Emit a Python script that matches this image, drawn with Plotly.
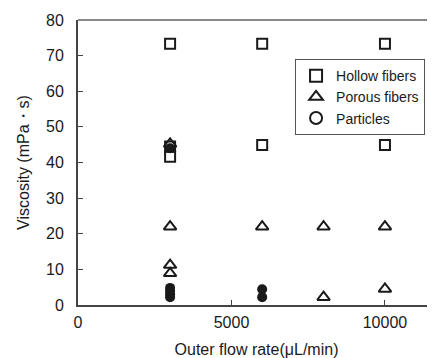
import plotly.graph_objects as go

hollow_x = [3000, 3000, 3000, 6000, 6000, 10000, 10000]
hollow_y = [73.3, 44.5, 41.6, 73.3, 44.9, 73.3, 44.9]

porous_x = [3000, 3000, 3000, 3000, 6000, 8000, 8000, 10000, 10000]
porous_y = [45.2, 22.0, 11.2, 8.9, 22.0, 22.0, 2.2, 22.0, 4.5]

particle_x = [3000, 3000, 3000, 3000, 3000, 6000, 6000]
particle_y = [44.0, 4.8, 3.9, 3.0, 2.2, 4.4, 2.2]

x_ticks = [0, 5000, 10000]
y_ticks = [0, 10, 20, 30, 40, 50, 60, 70, 80]

FONT = "Liberation Sans, Arial, sans-serif"
BLACK = "#1a1a1a"

fig = go.Figure()
fig.add_trace(go.Scatter(
    x=hollow_x, y=hollow_y, mode="markers", name="Hollow fibers",
    marker=dict(symbol="square-open", size=10, color=BLACK, line=dict(width=2, color=BLACK)),
))
fig.add_trace(go.Scatter(
    x=porous_x, y=porous_y, mode="markers", name="Porous fibers",
    marker=dict(symbol="triangle-up-open", size=11, color=BLACK, line=dict(width=2, color=BLACK)),
))
fig.add_trace(go.Scatter(
    x=particle_x, y=particle_y, mode="markers", name="Particles", showlegend=False,
    marker=dict(symbol="circle", size=10, color=BLACK, line=dict(width=0)),
))
fig.add_trace(go.Scatter(
    x=[None], y=[None], mode="markers", name="Particles",
    marker=dict(symbol="circle-open", size=10, color=BLACK, line=dict(width=2, color=BLACK)),
))

fig.update_layout(
    width=427, height=350,
    margin=dict(l=70, r=0, t=12, b=53),
    paper_bgcolor="white", plot_bgcolor="white",
    font=dict(family=FONT, size=16, color=BLACK),
    showlegend=True,
    legend=dict(
        x=0.608, y=0.863, xanchor="left", yanchor="top",
        bgcolor="white", bordercolor="#555", borderwidth=1,
        font=dict(size=14, color=BLACK),
        tracegroupgap=0, itemsizing="constant", itemwidth=30,
    ),
    xaxis=dict(
        range=[0, 11630], tickvals=x_ticks, ticktext=[str(v) for v in x_ticks],
        showgrid=False, zeroline=False, showline=True, linecolor="#444", linewidth=2,
        ticks="inside", ticklen=5, tickcolor="#444", automargin=False,
        tickfont=dict(size=16), ticklabelstandoff=2,
        title=dict(text="Outer flow rate(μL/min)", font=dict(size=16), standoff=14),
    ),
    yaxis=dict(
        range=[0, 80], tickvals=y_ticks,
        showgrid=False, zeroline=False, showline=True, linecolor="#444", linewidth=2,
        ticks="inside", ticklen=5, tickcolor="#444", automargin=False,
        tickfont=dict(size=16), ticklabelstandoff=9,
        title=dict(text="Viscosity (mPa・s)", font=dict(size=16), standoff=12),
    ),
    shapes=[dict(type="line", xref="paper", yref="paper", x0=0, x1=1, y0=1, y1=1,
                 line=dict(color="#888", width=2))],
)

fig.write_html("out.html")
